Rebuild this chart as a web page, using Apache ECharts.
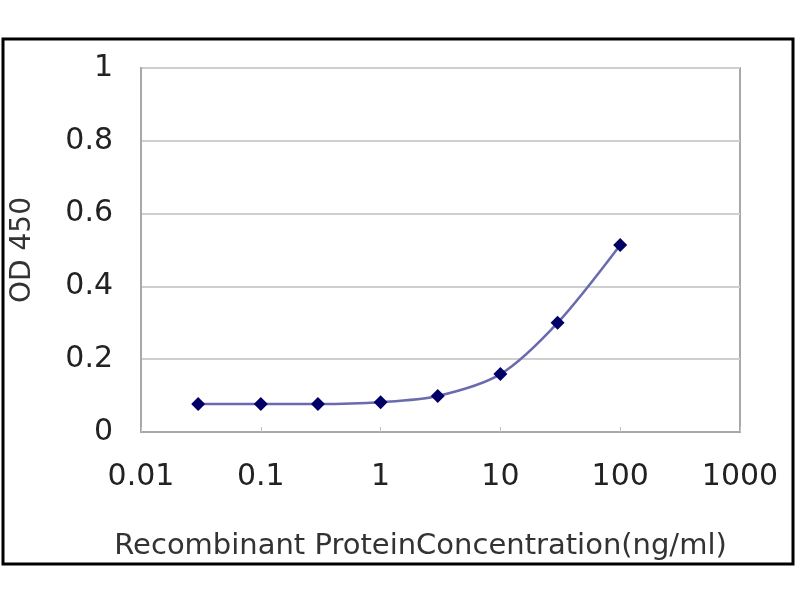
<!DOCTYPE html>
<html>
<head>
<meta charset="utf-8">
<script src="https://cdn.jsdelivr.net/npm/echarts@6/dist/echarts.min.js"></script>
<style>
html,body{margin:0;padding:0;background:#fff;}
#chart{width:800px;height:600px;}
</style>
</head>
<body>
<div id="chart"></div>
<script>
const concentrations = [0.03, 0.1, 0.3, 1, 3, 10, 30, 100];
const odValues = [0.077, 0.077, 0.077, 0.082, 0.099, 0.159, 0.300, 0.514];
const xTickLabels = ['0.01', '0.1', '1', '10', '100', '1000'];
const yTickLabels = ['0', '0.2', '0.4', '0.6', '0.8', '1'];

const chart = echarts.init(document.getElementById('chart'));
const font = 'DejaVu Sans';
chart.setOption({
  animation: false,
  backgroundColor: '#fff',
  graphic: [{
    type: 'rect',
    shape: { x: 3, y: 39, width: 790, height: 525 },
    style: { fill: 'none', stroke: '#000', lineWidth: 3 },
    z: 100
  }],
  grid: {
    left: 141, right: 60, top: 68, bottom: 168,
    show: true, borderColor: '#a8a8a8', borderWidth: 2, backgroundColor: 'transparent'
  },
  xAxis: {
    type: 'log', logBase: 10, min: 0.01, max: 1000,
    name: 'Recombinant ProteinConcentration(ng/ml)',
    nameLocation: 'middle', nameGap: 100,
    nameTextStyle: { fontFamily: font, fontSize: 29, color: '#333', padding: [0, 40, 0, 0] },
    axisLine: { lineStyle: { color: '#a8a8a8', width: 2 } },
    axisTick: { inside: true, length: 5, lineStyle: { color: '#c0c0c0', width: 1 } },
    minorTick: { show: false },
    splitLine: { show: false },
    axisLabel: {
      fontFamily: font, fontSize: 30, color: '#222', margin: 30,
      formatter: function (v) {
        const i = Math.round(Math.log10(v)) + 2;
        return xTickLabels[i] !== undefined ? xTickLabels[i] : '';
      }
    }
  },
  yAxis: {
    type: 'value', min: 0, max: 1, interval: 0.2,
    name: 'OD 450', nameLocation: 'middle', nameGap: 104,
    nameTextStyle: { fontFamily: font, fontSize: 28, color: '#333' },
    axisLine: { show: true, lineStyle: { color: '#a8a8a8', width: 2 } },
    axisTick: { show: false },
    splitLine: { lineStyle: { color: '#cfcfcf', width: 2 } },
    axisLabel: {
      fontFamily: font, fontSize: 30, color: '#222', margin: 28,
      formatter: function (v) {
        const i = Math.round(v / 0.2);
        return yTickLabels[i] !== undefined ? yTickLabels[i] : '';
      }
    }
  },
  series: [{
    type: 'line',
    data: concentrations.map((c, i) => [c, odValues[i]]),
    smooth: 0.3,
    symbol: 'diamond', symbolSize: 14,
    lineStyle: { color: '#6a6aae', width: 2.5 },
    itemStyle: { color: '#000066' }
  }]
});
</script>
</body>
</html>
